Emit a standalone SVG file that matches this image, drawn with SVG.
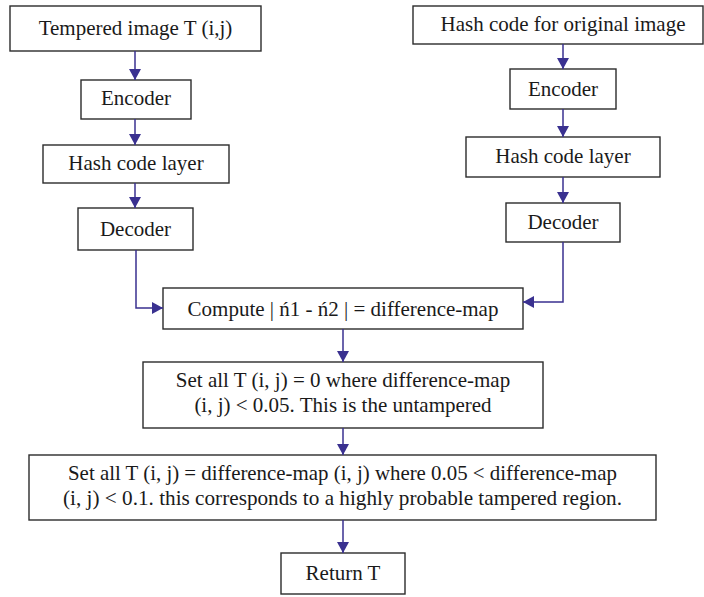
<svg xmlns="http://www.w3.org/2000/svg" width="704" height="597" viewBox="0 0 704 597">
  <style>
    .box { fill: #ffffff; stroke: #2b2b2b; stroke-width: 1.4; }
    .lbl { font-family: "Liberation Serif", "Times New Roman", serif; font-size: 21px; fill: #1a1a1a; text-anchor: middle; }
    .conn { fill: none; stroke: #3a3190; stroke-width: 1.5; marker-end: url(#arrow); }
  </style>
  <defs>
    <marker id="arrow" markerUnits="userSpaceOnUse" markerWidth="12" markerHeight="12" refX="11" refY="6" orient="auto">
      <path d="M0,0 L11,6 L0,12 Z" fill="#3a3190"/>
    </marker>
  </defs>
  <rect width="704" height="597" fill="#ffffff"/>

  <!-- left branch -->
  <g id="tempered-image">
    <rect class="box" x="10" y="6" width="251" height="45"/>
    <text class="lbl" x="135.5" y="35">Tempered image T (i,j)</text>
  </g>
  <g id="encoder-left">
    <rect class="box" x="81" y="80" width="110" height="39"/>
    <text class="lbl" x="136" y="105">Encoder</text>
  </g>
  <g id="hash-layer-left">
    <rect class="box" x="43" y="145" width="186" height="38"/>
    <text class="lbl" x="136" y="170">Hash code layer</text>
  </g>
  <g id="decoder-left">
    <rect class="box" x="78" y="208" width="115" height="42"/>
    <text class="lbl" x="135.5" y="236">Decoder</text>
  </g>

  <!-- right branch -->
  <g id="hash-original">
    <rect class="box" x="413" y="6" width="290" height="38"/>
    <text class="lbl" x="563" y="31">Hash code for original image</text>
  </g>
  <g id="encoder-right">
    <rect class="box" x="510" y="69" width="106" height="40"/>
    <text class="lbl" x="563" y="96">Encoder</text>
  </g>
  <g id="hash-layer-right">
    <rect class="box" x="466" y="137" width="194" height="40"/>
    <text class="lbl" x="563" y="163">Hash code layer</text>
  </g>
  <g id="decoder-right">
    <rect class="box" x="506" y="203" width="114" height="39"/>
    <text class="lbl" x="563" y="229">Decoder</text>
  </g>

  <!-- merged steps -->
  <g id="compute-diff">
    <rect class="box" x="163" y="288" width="360" height="41"/>
    <text class="lbl" x="343" y="316">Compute | ń1 - ń2 | = difference-map</text>
  </g>
  <g id="set-untampered">
    <rect class="box" x="143" y="362" width="400" height="66"/>
    <text class="lbl" x="343" y="387">Set all T (i, j) = 0 where difference-map</text>
    <text class="lbl" x="343" y="412">(i, j) &lt; 0.05. This is the untampered</text>
  </g>
  <g id="set-tampered">
    <rect class="box" x="29" y="455" width="627" height="65"/>
    <text class="lbl" x="342.5" y="480" textLength="549" lengthAdjust="spacingAndGlyphs">Set all T (i, j) = difference-map (i, j) where 0.05 &lt; difference-map</text>
    <text class="lbl" x="342.5" y="505" textLength="559" lengthAdjust="spacingAndGlyphs">(i, j) &lt; 0.1. this corresponds to a highly probable tampered region.</text>
  </g>
  <g id="return-t">
    <rect class="box" x="281" y="553" width="124" height="41"/>
    <text class="lbl" x="343" y="580">Return T</text>
  </g>

  <g id="connectors">
    <path class="conn" d="M135,51 V80"/>
    <path class="conn" d="M135,119 V145"/>
    <path class="conn" d="M135,183 V208"/>
    <path class="conn" d="M136,250 V308 H163"/>
    <path class="conn" d="M563,44 V69"/>
    <path class="conn" d="M563,109 V137"/>
    <path class="conn" d="M563,177 V203"/>
    <path class="conn" d="M563,242 V302 H523"/>
    <path class="conn" d="M343,329 V362"/>
    <path class="conn" d="M343,428 V455"/>
    <path class="conn" d="M343,520 V553"/>
  </g>
</svg>
